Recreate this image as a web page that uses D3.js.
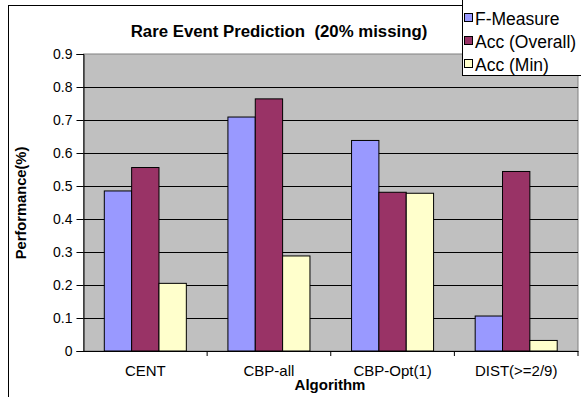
<!DOCTYPE html>
<html>
<head>
<meta charset="utf-8">
<script src="https://cdn.jsdelivr.net/npm/d3@7"></script>
<style>
  body { margin: 0; background: #fff; }
  text { font-family: "Liberation Sans", Arial, sans-serif; }
</style>
</head>
<body>
<div id="chart"></div>
<script>
const algorithms = ["CENT", "CBP-all", "CBP-Opt(1)", "DIST(>=2/9)"];
const seriesNames = ["F-Measure", "Acc (Overall)", "Acc (Min)"];
const fMeasure = [0.485, 0.709, 0.638, 0.106];
const accOverall = [0.556, 0.764, 0.481, 0.544];
const accMin = [0.205, 0.288, 0.478, 0.032];
const yTicks = [0, 0.1, 0.2, 0.3, 0.4, 0.5, 0.6, 0.7, 0.8, 0.9];
const colors = ["#9999FF", "#993366", "#FFFFCC"];

const width = 581, height = 397;
const seriesVals = [fMeasure, accOverall, accMin];

const svg = d3.select("#chart").append("svg")
  .attr("width", width)
  .attr("height", height);

// outer chart border (runs off the right and bottom)
svg.append("rect")
  .attr("x", 8.5).attr("y", 5.5)
  .attr("width", 600).attr("height", 420)
  .attr("fill", "#fff").attr("stroke", "#000");

const plotL = 83.5, plotR = 578, plotT = 54, plotB = 351;

const x0 = d3.scaleBand().domain(algorithms).range([plotL, plotR]).padding(0);
const x1 = d3.scaleBand().domain(seriesNames).range([20.8, x0.bandwidth() - 20.8]).padding(0);
const y = d3.scaleLinear().domain([0, 0.9]).range([plotB, plotT]);

// plot area
svg.append("rect")
  .attr("x", plotL).attr("y", plotT)
  .attr("width", plotR - plotL).attr("height", plotB - plotT)
  .attr("fill", "#C0C0C0").attr("stroke", "#808080");

// gridlines
svg.append("g").selectAll("line")
  .data(yTicks.filter(d => d > 0 && d < 0.9))
  .enter().append("line")
  .attr("x1", plotL).attr("x2", plotR)
  .attr("y1", d => Math.round(y(d)) + 0.5).attr("y2", d => Math.round(y(d)) + 0.5)
  .attr("stroke", "#000").attr("stroke-width", 1);

// bars
const groups = svg.append("g").selectAll("g")
  .data(algorithms)
  .enter().append("g")
  .attr("transform", d => `translate(${x0(d)},0)`);

groups.selectAll("rect")
  .data((d, i) => seriesNames.map((s, j) => ({ s, v: seriesVals[j][i], c: colors[j] })))
  .enter().append("rect")
  .attr("x", d => x1(d.s))
  .attr("y", d => y(d.v))
  .attr("width", x1.bandwidth())
  .attr("height", d => plotB - y(d.v))
  .attr("fill", d => d.c)
  .attr("stroke", "#000")
  .attr("stroke-width", 1);

// y axis
const yAxis = svg.append("g")
  .attr("transform", `translate(${plotL},0)`)
  .call(d3.axisLeft(y).tickValues(yTicks).tickSize(7).tickPadding(4).tickFormat(d => d === 0 ? "0" : d3.format(".1f")(d)));
yAxis.select(".domain").attr("stroke", "#000");
yAxis.selectAll(".tick line").attr("stroke", "#000");
yAxis.selectAll("text").attr("font-size", 14).attr("fill", "#000")
  .attr("font-family", "Liberation Sans, Arial, sans-serif");

// x axis
const xAxis = svg.append("g")
  .attr("transform", `translate(0,${plotB})`)
  .call(d3.axisBottom(x0).tickSize(0).tickPadding(14));
xAxis.select(".domain").attr("stroke", "#000");
xAxis.selectAll("text").attr("font-size", 15).attr("fill", "#000")
  .attr("font-family", "Liberation Sans, Arial, sans-serif");
svg.append("g").selectAll("line")
  .data(algorithms)
  .enter().append("line")
  .attr("x1", d => x0(d) + x0.bandwidth()).attr("x2", d => x0(d) + x0.bandwidth())
  .attr("y1", plotB).attr("y2", plotB + 5)
  .attr("stroke", "#000");

// titles
svg.append("text")
  .attr("x", 279).attr("y", 37)
  .attr("text-anchor", "middle")
  .attr("font-size", 16.8).attr("font-weight", "bold")
  .style("white-space", "pre")
  .text("Rare Event Prediction  (20% missing)");

svg.append("text")
  .attr("x", 330).attr("y", 390)
  .attr("text-anchor", "middle")
  .attr("font-size", 15).attr("font-weight", "bold")
  .text("Algorithm");

svg.append("text")
  .attr("transform", "translate(26,203) rotate(-90)")
  .attr("text-anchor", "middle")
  .attr("font-size", 14.7).attr("font-weight", "bold")
  .text("Performance(%)");

// legend
const legend = svg.append("g");
legend.append("rect")
  .attr("x", 462.5).attr("y", -2)
  .attr("width", 140).attr("height", 77.5)
  .attr("fill", "#fff").attr("stroke", "#000");
const items = legend.selectAll("g.item")
  .data(seriesNames)
  .enter().append("g")
  .attr("transform", (d, i) => `translate(0,${i * 23})`);
items.append("rect")
  .attr("x", 464.5).attr("y", 13.5)
  .attr("width", 8).attr("height", 8)
  .attr("fill", (d, i) => colors[i]).attr("stroke", "#000");
items.append("text")
  .attr("x", 475).attr("y", 25)
  .attr("font-size", 17.5)
  .text(d => d);
</script>
</body>
</html>
